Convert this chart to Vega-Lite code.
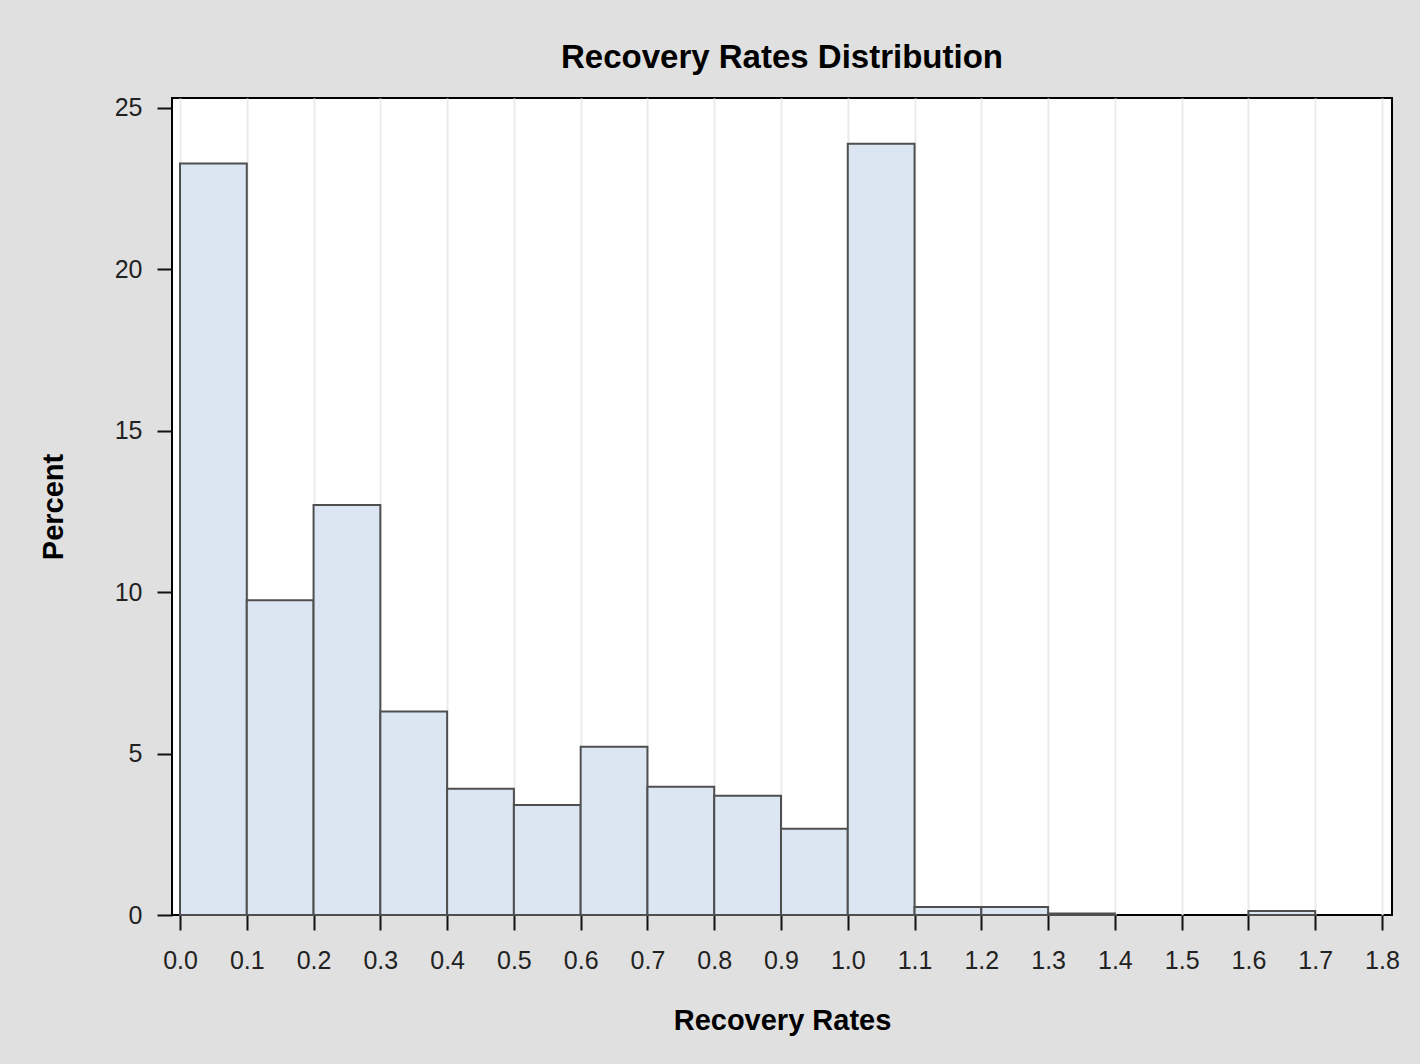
{
  "$schema": "https://vega.github.io/schema/vega-lite/v6.json",
  "width": 1220,
  "height": 817,
  "autosize": {"type": "none"},
  "padding": {"left": 172, "top": 98, "right": 28, "bottom": 149},
  "background": "#e0e0e0",
  "title": {
    "text": "Recovery Rates Distribution",
    "font": "Liberation Sans",
    "fontSize": 33,
    "fontWeight": "bold",
    "color": "#000000",
    "anchor": "middle",
    "offset": 21
  },
  "config": {
    "view": {"fill": "#ffffff", "stroke": "#000000", "strokeWidth": 2},
    "axis": {
      "labelFont": "Liberation Sans",
      "titleFont": "Liberation Sans",
      "labelColor": "#222222",
      "titleColor": "#000000",
      "tickColor": "#111111",
      "domain": false
    }
  },
  "data": {
    "values": [
      {"bin_start": 0.0, "bin_end": 0.1, "percent": 23.27},
      {"bin_start": 0.1, "bin_end": 0.2, "percent": 9.75},
      {"bin_start": 0.2, "bin_end": 0.3, "percent": 12.7},
      {"bin_start": 0.3, "bin_end": 0.4, "percent": 6.3},
      {"bin_start": 0.4, "bin_end": 0.5, "percent": 3.91},
      {"bin_start": 0.5, "bin_end": 0.6, "percent": 3.41},
      {"bin_start": 0.6, "bin_end": 0.7, "percent": 5.21},
      {"bin_start": 0.7, "bin_end": 0.8, "percent": 3.97},
      {"bin_start": 0.8, "bin_end": 0.9, "percent": 3.69},
      {"bin_start": 0.9, "bin_end": 1.0, "percent": 2.67},
      {"bin_start": 1.0, "bin_end": 1.1, "percent": 23.88},
      {"bin_start": 1.1, "bin_end": 1.2, "percent": 0.25},
      {"bin_start": 1.2, "bin_end": 1.3, "percent": 0.25},
      {"bin_start": 1.3, "bin_end": 1.4, "percent": 0.05},
      {"bin_start": 1.6, "bin_end": 1.7, "percent": 0.12}
    ]
  },
  "mark": {"type": "rect", "fill": "#dce6f2", "stroke": "#4f4f4f", "strokeWidth": 2},
  "encoding": {
    "x": {
      "field": "bin_start",
      "type": "quantitative",
      "title": "Recovery Rates",
      "scale": {"domain": [-0.012, 1.815], "nice": false, "zero": false},
      "axis": {
        "values": [0, 0.1, 0.2, 0.3, 0.4, 0.5, 0.6, 0.7, 0.8, 0.9, 1.0, 1.1, 1.2, 1.3, 1.4, 1.5, 1.6, 1.7, 1.8],
        "format": ".1f",
        "labelFontSize": 25,
        "tickSize": 15,
        "tickWidth": 2,
        "labelPadding": 18,
        "labelFlush": false,
        "labelOverlap": false,
        "grid": true,
        "gridColor": "#ebebeb",
        "gridWidth": 2,
        "titleFontSize": 29,
        "titleFontWeight": "bold",
        "titlePadding": 33
      }
    },
    "x2": {"field": "bin_end"},
    "y": {
      "field": "percent",
      "type": "quantitative",
      "title": "Percent",
      "scale": {"domain": [0, 25.3], "nice": false, "zero": true},
      "axis": {
        "values": [0, 5, 10, 15, 20, 25],
        "labelFontSize": 25,
        "tickSize": 15,
        "tickWidth": 2,
        "labelPadding": 15,
        "labelFlush": false,
        "labelOverlap": false,
        "grid": false,
        "titleFontSize": 29,
        "titleFontWeight": "bold",
        "titlePadding": 46
      }
    },
    "y2": {"datum": 0}
  }
}
